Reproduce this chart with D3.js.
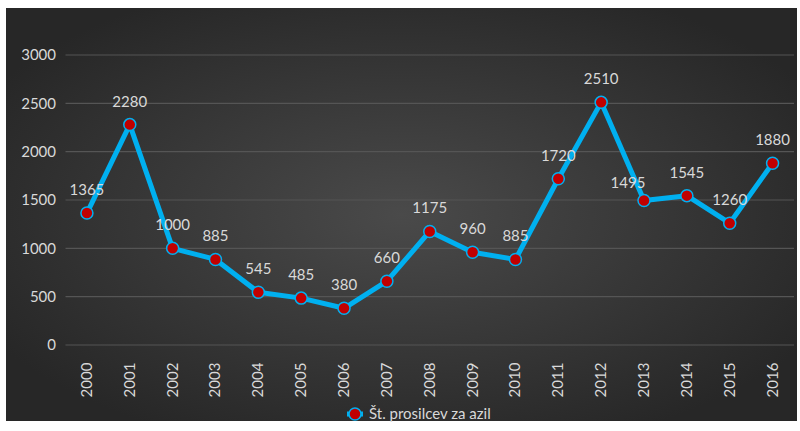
<!DOCTYPE html>
<html><head><meta charset="utf-8">
<script src="https://cdn.jsdelivr.net/npm/d3@7"></script>
<style>body{margin:0;background:#fff;}svg{display:block;}</style>
</head><body>
<svg id="c" width="800" height="431"></svg>
<script>
const years = ["2000","2001","2002","2003","2004","2005","2006","2007","2008","2009","2010","2011","2012","2013","2014","2015","2016"];
const values = [1365,2280,1000,885,545,485,380,660,1175,960,885,1720,2510,1495,1545,1260,1880];
const yTicks = [0,500,1000,1500,2000,2500,3000];
const seriesName = "Št. prosilcev za azil";

const svg = d3.select("#c");
const defs = svg.append("defs");
const g = defs.append("radialGradient").attr("id","bg").attr("cx","50%").attr("cy","50%").attr("r","60%");
g.append("stop").attr("offset","0%").attr("stop-color","#4a4a4a");
g.append("stop").attr("offset","100%").attr("stop-color","#272727");
svg.append("rect").attr("x",6).attr("y",8).attr("width",791).attr("height",413).attr("fill","url(#bg)");

const font = "Lato, 'Open Sans', sans-serif";
const x = d3.scaleBand().domain(years).range([65.5,794]);
const y = d3.scaleLinear().domain([0,3000]).range([345,55]);

// gridlines
svg.append("g").selectAll("line").data(yTicks).join("line")
  .attr("x1",65.5).attr("x2",794).attr("y1",d=>y(d)).attr("y2",d=>y(d))
  .attr("stroke","#555555").attr("stroke-width",1.2);

// y labels
svg.append("g").selectAll("text").data(yTicks).join("text")
  .attr("x",56).attr("y",d=>y(d)).attr("dy","0.35em").attr("text-anchor","end")
  .attr("fill","#d9d9d9").attr("font-family",font).attr("font-size",15).text(d=>d);

// x labels
svg.append("g").selectAll("text").data(years).join("text")
  .attr("transform",d=>`translate(${x(d)+x.bandwidth()/2+5},380) rotate(-90)`)
  .attr("text-anchor","middle").attr("fill","#d9d9d9").attr("font-family",font).attr("font-size",15).text(d=>d);

const pts = years.map((d,i)=>({year:d,v:values[i]}));
const cx = d=>x(d.year)+x.bandwidth()/2;
svg.append("path").datum(pts)
  .attr("d",d3.line().x(cx).y(d=>y(d.v)))
  .attr("fill","none").attr("stroke","#00b0f0").attr("stroke-width",5).attr("stroke-linejoin","round");

svg.append("g").selectAll("circle").data(pts).join("circle")
  .attr("cx",cx).attr("cy",d=>y(d.v)).attr("r",6)
  .attr("fill","#c00000").attr("stroke","#00b0f0").attr("stroke-width",1.5);

// data labels
const offsets = {"2013":[-16,-12]};
svg.append("g").selectAll("text").data(pts).join("text")
  .attr("x",d=>cx(d)+(offsets[d.year]?offsets[d.year][0]:0))
  .attr("y",d=>y(d.v)+(offsets[d.year]?offsets[d.year][1]:-18))
  .attr("text-anchor","middle").attr("fill","#d9d9d9").attr("font-family",font).attr("font-size",15).text(d=>d.v);

// legend
const lg = svg.append("g");
lg.append("line").attr("x1",347).attr("x2",363).attr("y1",414).attr("y2",414).attr("stroke","#00b0f0").attr("stroke-width",5);
lg.append("circle").attr("cx",355).attr("cy",414).attr("r",6).attr("fill","#c00000").attr("stroke","#00b0f0").attr("stroke-width",1.5);
lg.append("text").attr("x",369).attr("y",414).attr("dy","0.35em").attr("fill","#d9d9d9").attr("font-family",font).attr("font-size",15).text(seriesName);
</script>
</body></html>
